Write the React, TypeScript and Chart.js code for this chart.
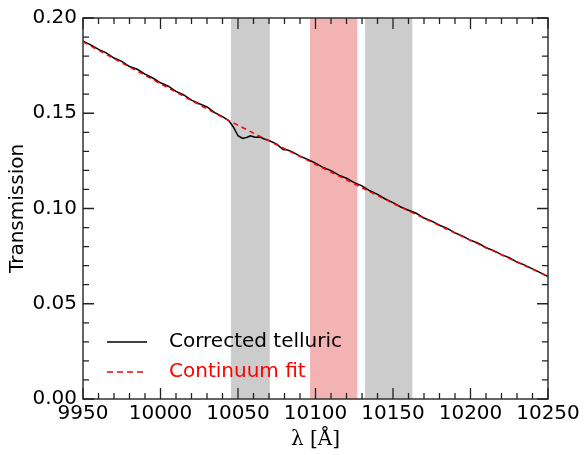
import React, { useEffect, useRef } from "react";
import { Chart, registerables } from "chart.js";

Chart.register(...registerables);

// Wavelength grid and fluxes
const telluricWave = [
  9950, 9955, 9960, 9965, 9970, 9975, 9980, 9985, 9990, 9995,
  10000, 10005, 10010, 10015, 10020, 10025, 10030, 10035, 10040, 10044,
  10047, 10050, 10053, 10056, 10058, 10061, 10064, 10067, 10070, 10075,
  10079, 10082, 10085, 10090, 10095, 10100, 10105, 10110, 10115, 10120,
  10125, 10130, 10135, 10140, 10145, 10150, 10155, 10160, 10165, 10170,
  10175, 10180, 10185, 10190, 10195, 10200, 10205, 10210, 10215, 10220,
  10225, 10230, 10235, 10240, 10245, 10250,
];
const telluricFlux = [
  0.1878, 0.1859, 0.1835, 0.1817, 0.179, 0.1772, 0.1745, 0.1731, 0.1705, 0.1685,
  0.166, 0.1642, 0.1615, 0.1596, 0.1569, 0.155, 0.1533, 0.1503, 0.1482, 0.1462,
  0.1428, 0.1382, 0.1368, 0.1374, 0.1382, 0.1374, 0.1375, 0.1365, 0.1357, 0.1338,
  0.131, 0.1307, 0.1297, 0.1275, 0.1257, 0.1238, 0.1215, 0.1199, 0.1175, 0.1159,
  0.1136, 0.1119, 0.1093, 0.1074, 0.105, 0.1031, 0.1008, 0.0991, 0.0975, 0.095,
  0.0934, 0.0912, 0.0896, 0.0872, 0.0855, 0.0833, 0.0818, 0.0794, 0.0779, 0.0758,
  0.0742, 0.0719, 0.0703, 0.0683, 0.0663, 0.0643,
];

const continuumWave = [
  9950, 9960, 9970, 9980, 9990, 10000, 10010, 10020, 10030, 10040,
  10050, 10060, 10070, 10080, 10090, 10100, 10110, 10120, 10130, 10140,
  10150, 10160, 10170, 10180, 10190, 10200, 10210, 10220, 10230, 10240, 10250,
];
const continuumFlux = [
  0.1875, 0.1831, 0.1787, 0.1743, 0.1699, 0.1655, 0.1611, 0.1567, 0.1523, 0.1479,
  0.1437, 0.1396, 0.1355, 0.1314, 0.1273, 0.1232, 0.1191, 0.115, 0.1109, 0.1068,
  0.1027, 0.0988, 0.0949, 0.091, 0.0871, 0.0833, 0.0795, 0.0757, 0.0719, 0.0681, 0.0643,
];

// Shaded wavelength regions [start, end]
const bandStarts = [10045.5, 10096.5, 10132];
const bandEnds = [10070.5, 10127, 10162.5];
const bandColors = ["#cccccc", "#f4b3b3", "#cccccc"];

const xMin = 9950;
const xMax = 10250;
const xMajorStep = 50;
const xMinorStep = 10;
const yMin = 0;
const yMax = 0.2;
const yMajorStep = 0.05;
const yMinorStep = 0.01;

const legendLabels = ["Corrected telluric", "Continuum fit"];
const legendColors = ["#000000", "#ff0000"];

const FONT = "'DejaVu Sans', sans-serif";

const bandsPlugin = {
  id: "bands",
  beforeDatasetsDraw(chart: any) {
    const { ctx, chartArea, scales } = chart;
    const xs = scales.x;
    ctx.save();
    for (let i = 0; i < bandStarts.length; i++) {
      const a = xs.getPixelForValue(bandStarts[i]);
      const b = xs.getPixelForValue(bandEnds[i]);
      ctx.fillStyle = bandColors[i];
      ctx.fillRect(a, chartArea.top, b - a, chartArea.bottom - chartArea.top);
    }
    ctx.restore();
  },
};

const frameTicksPlugin = {
  id: "frameTicks",
  afterDraw(chart: any) {
    const { ctx, chartArea, scales } = chart;
    const { left, right, top, bottom } = chartArea;
    const xs = scales.x;
    const ys = scales.y;
    ctx.save();
    ctx.strokeStyle = "#333333";
    ctx.lineWidth = 1.5;
    ctx.strokeRect(left, top, right - left, bottom - top);
    ctx.strokeStyle = "#222222";
    ctx.lineWidth = 1.3;
    const major = 11;
    const minor = 6;
    const nx = Math.round((xMax - xMin) / xMinorStep);
    for (let i = 0; i <= nx; i++) {
      const v = xMin + i * xMinorStep;
      const isMajor = Math.abs(((v - xMin) / xMajorStep) - Math.round((v - xMin) / xMajorStep)) < 1e-6;
      const L = isMajor ? major : minor;
      const px = xs.getPixelForValue(v);
      ctx.beginPath();
      ctx.moveTo(px, bottom);
      ctx.lineTo(px, bottom - L);
      ctx.moveTo(px, top);
      ctx.lineTo(px, top + L);
      ctx.stroke();
    }
    const ny = Math.round((yMax - yMin) / yMinorStep);
    for (let i = 0; i <= ny; i++) {
      const v = yMin + i * yMinorStep;
      const isMajor = i % Math.round(yMajorStep / yMinorStep) === 0;
      const L = isMajor ? major : minor;
      const py = ys.getPixelForValue(v);
      ctx.beginPath();
      ctx.moveTo(left, py);
      ctx.lineTo(left + L, py);
      ctx.moveTo(right, py);
      ctx.lineTo(right - L, py);
      ctx.stroke();
    }

    // Legend (inside, lower left)
    const rowsY = [bottom - 57, bottom - 27];
    ctx.font = `20px ${FONT}`;
    ctx.textBaseline = "middle";
    ctx.textAlign = "left";
    for (let i = 0; i < legendLabels.length; i++) {
      ctx.strokeStyle = legendColors[i];
      ctx.lineWidth = 1.5;
      ctx.setLineDash(i === 1 ? [6, 4] : []);
      ctx.beginPath();
      ctx.moveTo(left + 24, rowsY[i]);
      ctx.lineTo(left + 64, rowsY[i]);
      ctx.stroke();
      ctx.setLineDash([]);
      ctx.fillStyle = legendColors[i];
      ctx.fillText(legendLabels[i], left + 86, rowsY[i]);
    }
    ctx.restore();
  },
};

export default function App() {
  const ref = useRef<HTMLCanvasElement>(null);
  useEffect(() => {
    document.body.style.margin = "0";
    const canvas = ref.current!;
    const chart = new Chart(canvas, {
      type: "line",
      data: {
        datasets: [
          {
            label: legendLabels[1],
            data: continuumWave.map((w, i) => ({ x: w, y: continuumFlux[i] })),
            borderColor: "#ff0000",
            borderWidth: 1.5,
            borderDash: [5, 4],
            pointRadius: 0,
            tension: 0,
            order: 0,
          },
          {
            label: legendLabels[0],
            data: telluricWave.map((w, i) => ({ x: w, y: telluricFlux[i] })),
            borderColor: "#000000",
            borderWidth: 1.5,
            pointRadius: 0,
            tension: 0,
            order: 1,
          },
        ],
      },
      options: {
        animation: false,
        responsive: false,
        maintainAspectRatio: false,
        layout: { padding: { top: 15, right: 36, left: 0, bottom: 0 } },
        plugins: {
          legend: { display: false },
          tooltip: { enabled: false },
        },
        scales: {
          x: {
            type: "linear",
            min: xMin,
            max: xMax,
            grid: { display: false, drawTicks: false },
            border: { display: false },
            ticks: {
              stepSize: xMajorStep,
              autoSkip: false,
              maxRotation: 0,
              padding: 3,
              color: "#000000",
              font: { family: FONT, size: 20 },
              callback: (v: any) => String(v),
            },
            title: {
              display: true,
              text: "λ [Å]",
              color: "#000000",
              font: { family: "'DejaVu Serif', serif", size: 20 },
              padding: { top: 0, bottom: 3 },
            },
            afterFit: (s: any) => {
              s.height = 56;
            },
          },
          y: {
            type: "linear",
            min: yMin,
            max: yMax,
            grid: { display: false, drawTicks: false },
            border: { display: false },
            ticks: {
              stepSize: yMajorStep,
              padding: 6,
              color: "#000000",
              font: { family: FONT, size: 20 },
              callback: (v: any) => Number(v).toFixed(2),
            },
            title: {
              display: true,
              text: "Transmission",
              color: "#000000",
              font: { family: FONT, size: 20 },
              padding: { top: 6, bottom: 0 },
            },
            afterFit: (s: any) => {
              s.width = 83;
            },
          },
        },
      },
      plugins: [bandsPlugin, frameTicksPlugin],
    });
    return () => chart.destroy();
  }, []);
  return <canvas ref={ref} width={584} height={455} style={{ display: "block" }} />;
}
